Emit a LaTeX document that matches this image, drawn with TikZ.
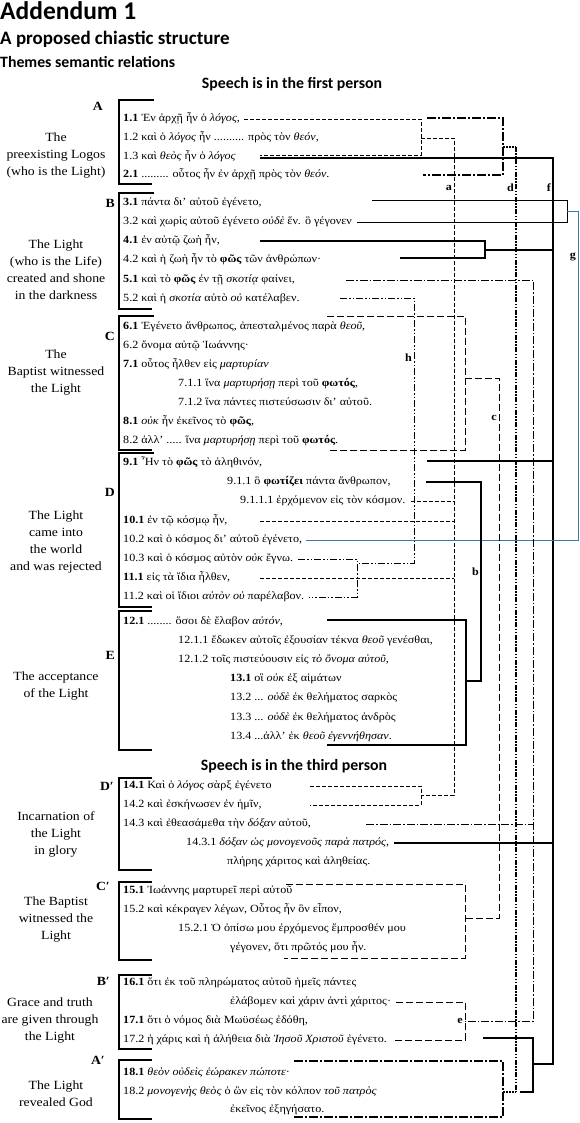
\documentclass[tikz,border=0pt]{standalone}
\usepackage{fontspec}
\setmainfont{Liberation Serif}[FakeStretch=1.1]
\newfontfamily\hdfont{Carlito}
\newcommand\gkfont{\fontsize{11}{13}\selectfont}
\newcommand\lbfont{\fontsize{12.5}{17}\selectfont}
\begin{document}
\begin{tikzpicture}[x=1pt,y=-1pt,
  txt/.style={anchor=west,inner sep=0pt,text height=8pt,text depth=2.5pt,font=\gkfont},
  lab/.style={align=center,inner sep=0pt,font=\lbfont},
  sec/.style={anchor=east,inner sep=0pt,font=\lbfont\bfseries},
  cl/.style={anchor=east,inner sep=1pt,font=\gkfont\bfseries},
  brk/.style={line width=1.1pt},
  dsh/.style={line width=0.8pt,dash pattern=on 4pt off 2pt},
  dshm/.style={line width=1pt,dash pattern=on 7pt off 3pt},
  dd/.style={line width=0.8pt,dash pattern=on 8pt off 2pt on 1.5pt off 2pt},
  ddd/.style={line width=0.8pt,dash pattern=on 7pt off 2pt on 1.5pt off 2pt on 1.5pt off 2pt},
  tdd/.style={line width=1.8pt,dash pattern=on 9pt off 2pt on 2pt off 2pt},
  dln/.style={line width=1.8pt,dash pattern=on 5pt off 1.5pt on 1.5pt off 1.5pt on 1.5pt off 1.5pt},
  dts/.style={line width=1.8pt,dash pattern=on 1.5pt off 1.5pt},
  sol/.style={line width=2pt},
  thn/.style={line width=0.8pt},
  med/.style={line width=1.2pt},
  blu/.style={line width=0.9pt,draw={rgb,255:red,60;green,120;blue,175}},
  hd/.style={inner sep=0pt,font=\hdfont\bfseries}
]
\useasboundingbox (0,0) rectangle (580,1123);

% headings
\node[hd,anchor=base west,font=\hdfont\bfseries\fontsize{25.5}{30}\selectfont] (t1) at (0,20) {Addendum 1};
\node[hd,anchor=base west,font=\hdfont\bfseries\fontsize{19}{23}\selectfont] (t2) at (0,45) {A proposed chiastic structure};
\node[hd,anchor=base west,font=\hdfont\bfseries\fontsize{15.8}{19}\selectfont] (t3) at (0,68) {Themes semantic relations};
\node[hd,anchor=base,font=\hdfont\bfseries\fontsize{15.8}{19}\selectfont] (s1) at (292,89) {Speech is in the first person};
\node[hd,anchor=base,font=\hdfont\bfseries\fontsize{15.8}{19}\selectfont] (s2) at (294,770) {Speech is in the third person};

% brackets
\draw[brk] (154,100) -| (119,184) -- (152,184);
\draw[brk] (154,193) -| (119,309) -- (152,309);
\draw[brk] (154,316) -| (119,450) -- (152,450);
\draw[brk] (154,453) -| (119,607) -- (152,607);
\draw[brk] (152,611) -| (119,750) -- (152,750);
\draw[brk] (152,778) -| (119,870) -- (152,870);
\draw[brk] (152,882) -| (119,960) -- (152,960);
\draw[brk] (152,975) -| (119,1049) -- (152,1049);
\draw[brk] (152,1060) -| (119,1119) -- (152,1119);

% section letters
\node[sec] (kA) at (103,106) {A};
\node[sec] (kB) at (115,203) {B};
\node[sec] (kC) at (115,336) {C};
\node[sec] (kD) at (115,492) {D};
\node[sec] (kE) at (115,655) {E};
\node[sec] (kD2) at (114,786) {D′};
\node[sec] (kC2) at (110,886) {C′};
\node[sec] (kB2) at (110,981) {B′};
\node[sec] (kA2) at (105,1060) {A′};

% left labels
\node[lab] (mA) at (56,156) {The\\preexisting Logos\\(who is the Light)};
\node[lab] (mB) at (56,270) {The Light\\(who is the Life)\\created and shone\\in the darkness};
\node[lab] (mC) at (56,373) {The\\Baptist witnessed\\the Light};
\node[lab] (mD) at (56,542) {The Light\\came into\\the world\\and was rejected};
\node[lab] (mE) at (56,686) {The acceptance\\of the Light};
\node[lab] (mD2) at (56,834) {Incarnation of\\the Light\\in glory};
\node[lab] (mC2) at (56,920) {The Baptist\\witnessed the\\Light};
\node[lab] (mB2) at (50,1020) {Grace and truth\\are given through\\the Light};
\node[lab] (mA2) at (56,1094) {The Light\\revealed God};

% A
\node[txt] (l11) at (123,119) {\textbf{1.1} Ἐν ἀρχῇ ἦν ὁ \textit{λόγος},};
\node[txt] (l12) at (123,138) {1.2 καὶ ὁ \textit{λόγος} ἦν .......... πρὸς τὸν \textit{θεόν},};
\node[txt] (l13) at (123,157) {1.3 καὶ \textit{θεὸς} ἦν ὁ \textit{λόγος}};
\node[txt] (l21) at (123,175) {\textbf{2.1} ......... οὗτος ἦν ἐν ἀρχῇ πρὸς τὸν \textit{θεόν}.};
% B
\node[txt] (l31) at (123,203) {\textbf{3.1} πάντα δι’ αὐτοῦ ἐγένετο,};
\node[txt] (l32) at (123,222) {3.2 καὶ χωρὶς αὐτοῦ ἐγένετο \textit{οὐδὲ} ἕν. ὃ γέγονεν};
\node[txt] (l41) at (123,241) {\textbf{4.1} ἐν αὐτῷ ζωὴ ἦν,};
\node[txt] (l42) at (123,260) {4.2 καὶ ἡ ζωὴ ἦν τὸ \textbf{φῶς} τῶν ἀνθρώπων·};
\node[txt] (l51) at (123,280) {\textbf{5.1} καὶ τὸ \textbf{φῶς} ἐν τῇ \textit{σκοτίᾳ} φαίνει,};
\node[txt] (l52) at (123,299) {5.2 καὶ ἡ \textit{σκοτία} αὐτὸ \textit{οὐ} κατέλαβεν.};
% C
\node[txt] (l61) at (123,327) {\textbf{6.1} Ἐγένετο ἄνθρωπος, ἀπεσταλμένος παρὰ \textit{θεοῦ},};
\node[txt] (l62) at (123,346) {6.2 ὄνομα αὐτῷ Ἰωάννης·};
\node[txt] (l71) at (123,365) {\textbf{7.1} οὗτος ἦλθεν εἰς \textit{μαρτυρίαν}};
\node[txt] (l711) at (178,384) {7.1.1 ἵνα \textit{μαρτυρήσῃ} περὶ τοῦ \textbf{φωτός},};
\node[txt] (l712) at (178,403) {7.1.2 ἵνα πάντες πιστεύσωσιν δι’ αὐτοῦ.};
\node[txt] (l81) at (123,422) {\textbf{8.1} \textit{οὐκ} ἦν ἐκεῖνος τὸ \textbf{φῶς},};
\node[txt] (l82) at (123,441) {8.2 ἀλλ’ ..... ἵνα \textit{μαρτυρήσῃ} περὶ τοῦ \textbf{φωτός}.};
% D
\node[txt] (l91) at (123,463) {\textbf{9.1} Ἦν τὸ \textbf{φῶς} τὸ ἀληθινόν,};
\node[txt] (l911) at (227,482) {9.1.1 ὃ \textbf{φωτίζει} πάντα ἄνθρωπον,};
\node[txt] (l9111) at (240,501) {9.1.1.1 ἐρχόμενον εἰς τὸν κόσμον.};
\node[txt] (l101) at (123,521) {\textbf{10.1} ἐν τῷ κόσμῳ ἦν,};
\node[txt] (l102) at (123,540) {10.2 καὶ ὁ κόσμος δι’ αὐτοῦ ἐγένετο,};
\node[txt] (l103) at (123,559) {10.3 καὶ ὁ κόσμος αὐτὸν \textit{οὐκ} ἔγνω.};
\node[txt] (l111) at (123,578) {\textbf{11.1} εἰς τὰ ἴδια ἦλθεν,};
\node[txt] (l112) at (123,597) {11.2 καὶ οἱ ἴδιοι \textit{αὐτὸν οὐ} παρέλαβον.};
% E
\node[txt] (l121) at (123,622) {\textbf{12.1} ........ ὅσοι δὲ ἔλαβον \textit{αὐτόν},};
\node[txt] (l1211) at (178,641) {12.1.1 ἔδωκεν αὐτοῖς ἐξουσίαν τέκνα \textit{θεοῦ} γενέσθαι,};
\node[txt] (l1212) at (178,660) {12.1.2 τοῖς πιστεύουσιν εἰς \textit{τὸ ὄνομα αὐτοῦ},};
\node[txt] (l131) at (230,679) {\textbf{13.1} οἳ \textit{οὐκ} ἐξ αἱμάτων};
\node[txt] (l132) at (230,698) {13.2 ... \textit{οὐδὲ} ἐκ θελήματος σαρκὸς};
\node[txt] (l133) at (230,718) {13.3 ... \textit{οὐδὲ} ἐκ θελήματος ἀνδρὸς};
\node[txt] (l134) at (230,737) {13.4 ...ἀλλ’ ἐκ \textit{θεοῦ ἐγεννήθησαν}.};
% D'
\node[txt] (l141) at (123,786) {\textbf{14.1} Καὶ ὁ \textit{λόγος} σὰρξ ἐγένετο};
\node[txt] (l142) at (123,805) {14.2 καὶ ἐσκήνωσεν ἐν ἡμῖν,};
\node[txt] (l143) at (123,824) {14.3 καὶ ἐθεασάμεθα τὴν \textit{δόξαν} αὐτοῦ,};
\node[txt] (l1431) at (186,843) {14.3.1 \textit{δόξαν ὡς μονογενοῦς παρὰ πατρός},};
\node[txt] (l143b) at (227,862) {πλήρης χάριτος καὶ ἀληθείας.};
% C'
\node[txt] (l151) at (123,891) {\textbf{15.1} Ἰωάννης μαρτυρεῖ περὶ αὐτοῦ};
\node[txt] (l152) at (123,910) {15.2 καὶ κέκραγεν λέγων, Οὗτος ἦν ὃν εἶπον,};
\node[txt] (l1521) at (178,929) {15.2.1 Ὁ ὀπίσω μου ἐρχόμενος ἔμπροσθέν μου};
\node[txt] (l152b) at (230,948) {γέγονεν, ὅτι πρῶτός μου ἦν.};
% B'
\node[txt] (l161) at (123,983) {\textbf{16.1} ὅτι ἐκ τοῦ πληρώματος αὐτοῦ ἡμεῖς πάντες};
\node[txt] (l161b) at (230,1002) {ἐλάβομεν καὶ χάριν ἀντὶ χάριτος·};
\node[txt] (l171) at (123,1021) {\textbf{17.1} ὅτι ὁ νόμος διὰ Μωϋσέως ἐδόθη,};
\node[txt] (l172) at (123,1040) {17.2 ἡ χάρις καὶ ἡ ἀλήθεια διὰ \textit{Ἰησοῦ Χριστοῦ} ἐγένετο.};
% A'
\node[txt] (l181) at (123,1073) {\textbf{18.1} \textit{θεὸν οὐδεὶς ἑώρακεν πώποτε}·};
\node[txt] (l182) at (123,1092) {18.2 \textit{μονογενὴς θεὸς} ὁ ὢν εἰς τὸν κόλπον \textit{τοῦ πατρὸς}};
\node[txt] (l182b) at (230,1110) {ἐκεῖνος ἐξηγήσατο.};

% ---- connectors ----
% A
\draw[dsh] ([xshift=4pt]l11.east) -| (421,155) -- (260,155);
\draw[tdd] (427,118) -| (503,175) -- (423,175);
\draw[dts] (503,147) -- (516,147);
\draw[dln] (516,147) -- (516,1092);
\draw[dts] (503,1092) -- (516,1092);
% a
\draw[dsh] (421,138) -- (454,138) -- (454,795) -- (421,795);
% f
\draw[sol] (260,158) -| (553,1064) -- (533,1064);
% B
\draw[thn] (372,200) -| (567,222) -- ([xshift=5pt]l32.east |- 0,222);
\draw[blu] (567,211) -| (578,540) -- ([xshift=4pt]l102.east);
\draw[sol] (260,241) -| (485,258) -- (400,258);
\draw[sol] (485,250) -- (553,250);
\draw[dd] (346,280) -| (533,1021) -- (465,1021);
\draw[ddd] (340,298) -| (414,563) -- (357,563);
% C
\draw[dshm] (327,316) -| (465,450) -- (327,450);
\draw[dshm] (465,378) -| (499,918) -- (465,918);
% D
\draw[sol] (427,461) -- (553,461);
\draw[med] (426,482) -| (481,681) -- (466,681);
\draw[dsh] ([xshift=5pt]l9111.east) -- (454,501);
\draw[dsh] (260,521) -- (454,521);
\draw[dsh] (260,578) -- (454,578);
\draw[ddd] ([xshift=5pt]l103.east) -| (357,597) -- ([xshift=5pt]l112.east);
% E
\draw[med] (327,620) -| (466,745) -- (327,745);
% D'
\draw[dsh] (310,786) -| (421,805) -- (310,805);
\draw[dd] (366,824) -- (533,824);
\draw[sol] ([xshift=5pt]l1431.east) -- (553,843);
% C'
\draw[dshm] (286,884) -| (465,958) -- (284,958);
% B'
\draw[dshm] ([xshift=5pt]l161b.east) -| (465,1040) -- ([xshift=6pt]l172.east);
\draw[sol] (483,1038) -| (533,1092) -- (520,1092);
% A'
\draw[tdd] (294,1061) -| (503,1117) -- (294,1117);

% connector letters
\node[cl] (ca) at (453,188) {a};
\node[cl] (cd) at (515,188) {d};
\node[cl] (cf) at (552,188) {f};
\node[cl] (cg) at (577,257) {g};
\node[cl] (ch) at (413,358) {h};
\node[cl] (cc) at (498,418) {c};
\node[cl] (cb) at (480,572) {b};
\node[cl] (ce) at (464,1021) {e};
\end{tikzpicture}
\end{document}
